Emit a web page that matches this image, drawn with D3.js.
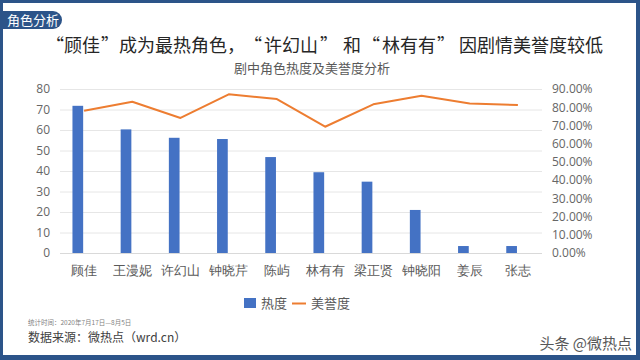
<!DOCTYPE html>
<html>
<head>
<meta charset="utf-8">
<script src="https://cdn.jsdelivr.net/npm/d3@7"></script>
<style>
  html, body { margin: 0; padding: 0; background: #fff; }
  svg { display: block; font-family: "Noto Sans CJK SC", "Noto Sans", sans-serif; }
</style>
</head>
<body>
<svg id="chart" width="640" height="360"></svg>
<script>
const categories = ["顾佳", "王漫妮", "许幻山", "钟晓芹", "陈屿", "林有有", "梁正贤", "钟晓阳", "姜辰", "张志"];
const heat = [71.8, 60.3, 56.2, 55.6, 46.8, 39.4, 34.8, 21, 3.4, 3.4];
const reputation = [0.781, 0.830, 0.741, 0.871, 0.845, 0.693, 0.816, 0.863, 0.821, 0.812];
const leftTicks = [0, 10, 20, 30, 40, 50, 60, 70, 80];
const rightTicks = [0, 0.1, 0.2, 0.3, 0.4, 0.5, 0.6, 0.7, 0.8, 0.9];
const titleParts = ["“", "顾佳", "”", "成为最热角色，", "“", "许幻山", "”", "和", "“", "林有有", "”", "因剧情美誉度较低"];

const frameColor = "#2c5489";
const barColor = "#4472c4";
const lineColor = "#ed7d31";

const svg = d3.select("#chart");

// frame
svg.append("rect").attr("x", 0).attr("y", 0).attr("width", 640).attr("height", 360).attr("fill", frameColor);
svg.append("rect").attr("x", 3).attr("y", 3).attr("width", 633).attr("height", 352).attr("fill", "#fff");

// tag top-left
svg.append("path")
    .attr("d", "M3,11 H53 A9,9 0 0 1 53,29 H3 Z")
    .attr("fill", frameColor);
svg.append("text")
    .text("角色分析")
    .attr("x", 7)
    .attr("y", 25)
    .attr("fill", "#fff")
    .attr("font-size", 13);

// title, the spacing around the quotes differs from the font's, so each piece gets its own start
const titleX = [46, 64, 101, 119, 244, 264, 320, 343, 362, 382, 437, 459];
svg.append("text")
    .attr("y", 52)
    .attr("fill", "#262626")
    .attr("font-size", 18)
    .selectAll("tspan")
    .data(titleParts)
    .join("tspan")
    .attr("x", (d, i) => titleX[i])
    .text(d => d);

svg.append("text")
    .text("剧中角色热度及美誉度分析")
    .attr("x", 312)
    .attr("y", 73)
    .attr("text-anchor", "middle")
    .attr("fill", "#595959")
    .attr("font-size", 13);

// scales
const x = d3.scaleBand().domain(categories).range([60, 542]).padding(0);
const inner = d3.scaleBand().domain(["热度", "美誉度"]).range([0, x.bandwidth()])
    .paddingInner(0.15).paddingOuter(0.99);
const yL = d3.scaleLinear().domain([0, 80]).range([253, 89]);
const yR = d3.scaleLinear().domain([0, 0.9]).range([253, 89]);

// grid
svg.append("g")
    .selectAll("line")
    .data(leftTicks)
    .join("line")
    .attr("x1", 60)
    .attr("x2", 542)
    .attr("y1", d => yL(d) + 0.5)
    .attr("y2", d => yL(d) + 0.5)
    .attr("stroke", d => d === 0 ? "#d9d9d9" : "#e6e6e6")
    .attr("stroke-width", 1);

// left axis
const axisL = svg.append("g")
    .attr("transform", "translate(50,0)")
    .call(d3.axisLeft(yL).tickValues(leftTicks).tickSize(0).tickPadding(0));
axisL.select(".domain").remove();
axisL.selectAll("text").attr("fill", "#666").attr("font-size", 12)
    .attr("font-family", "\"Open Sans\", \"Noto Sans\", sans-serif");

// right axis
const axisR = svg.append("g")
    .attr("transform", "translate(552,0)")
    .call(d3.axisRight(yR).tickValues(rightTicks).tickSize(0).tickPadding(0).tickFormat(d3.format(".2%")));
axisR.select(".domain").remove();
axisR.selectAll("text").attr("fill", "#666").attr("font-size", 12)
    .attr("font-family", "\"Open Sans\", \"Noto Sans\", sans-serif");

// bottom axis labels
const axisB = svg.append("g")
    .attr("transform", "translate(0,253)")
    .call(d3.axisBottom(x).tickSize(0).tickPadding(13));
axisB.select(".domain").remove();
axisB.selectAll("text").attr("fill", "#595959").attr("font-size", 13);

// bars
svg.append("g")
    .selectAll("rect")
    .data(categories)
    .join("rect")
    .attr("x", (d) => x(d) + inner("热度"))
    .attr("width", inner.bandwidth())
    .attr("y", (d, i) => yL(heat[i]))
    .attr("height", (d, i) => yL(0) - yL(heat[i]))
    .attr("fill", barColor);

// line
const line = d3.line()
    .x((d, i) => x(categories[i]) + x.bandwidth() / 2)
    .y(d => yR(d));

svg.append("path")
    .datum(reputation)
    .attr("d", line)
    .attr("fill", "none")
    .attr("stroke", lineColor)
    .attr("stroke-width", 2)
    .attr("stroke-linejoin", "round");

// legend
const legend = svg.append("g").attr("transform", "translate(244,298)");
legend.append("rect").attr("x", 0).attr("y", 0).attr("width", 12).attr("height", 10).attr("fill", barColor);
legend.append("text").text("热度").attr("x", 17).attr("y", 10).attr("fill", "#595959").attr("font-size", 13);
legend.append("line").attr("x1", 48).attr("x2", 62).attr("y1", 5.5).attr("y2", 5.5)
    .attr("stroke", lineColor).attr("stroke-width", 2);
legend.append("text").text("美誉度").attr("x", 67).attr("y", 10).attr("fill", "#595959").attr("font-size", 13);

// footer
svg.append("text")
    .text("统计时间：2020年7月17日—8月5日")
    .attr("x", 28)
    .attr("y", 325)
    .attr("fill", "#7f7f7f")
    .attr("font-size", 6.5);
svg.append("text")
    .text("数据来源：微热点（wrd.cn）")
    .attr("x", 28)
    .attr("y", 342)
    .attr("fill", "#404040")
    .attr("font-size", 12);

// watermark
svg.append("text")
    .text("头条 @微热点")
    .attr("x", 632)
    .attr("y", 349)
    .attr("text-anchor", "end")
    .attr("fill", "#3a3a3a")
    .attr("font-size", 15)
    .attr("opacity", 0.85);
</script>
</body>
</html>
